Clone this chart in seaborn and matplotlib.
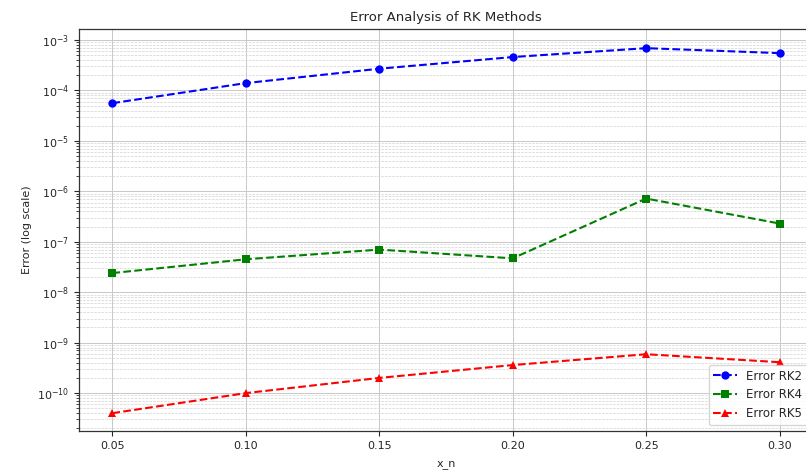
import matplotlib
matplotlib.use("Agg")
import matplotlib.pyplot as plt
import seaborn as sns
import numpy as np

x_n = [0.05, 0.10, 0.15, 0.20, 0.25, 0.30]
err_rk2 = [5.6e-5, 1.4e-4, 2.7e-4, 4.6e-4, 6.9e-4, 5.5e-4]
err_rk4 = [2.4e-8, 4.5e-8, 7.0e-8, 4.7e-8, 7.2e-7, 2.3e-7]
err_rk5 = [4.0e-11, 1.0e-10, 2.0e-10, 3.6e-10, 5.9e-10, 4.1e-10]
labels = ["Error RK2", "Error RK4", "Error RK5"]

sns.set_style("white")
plt.rcParams['font.family'] = ['DejaVu Sans']

fig = plt.figure(figsize=(8.06, 4.72), dpi=100)
ax = fig.add_axes([0.098, 0.087, 0.9107, 0.8517])

sns.lineplot(x=x_n, y=err_rk2, ax=ax, marker='o', linestyle='--', color='b',
             label=labels[0], markersize=6, markeredgewidth=0)
sns.lineplot(x=x_n, y=err_rk4, ax=ax, marker='s', linestyle='--', color='g',
             label=labels[1], markersize=6, markeredgewidth=0)
sns.lineplot(x=x_n, y=err_rk5, ax=ax, marker='^', linestyle='--', color='r',
             label=labels[2], markersize=6, markeredgewidth=0)

ax.set_yscale('log')
ax.set_ylim(10**-10.75, 10**-2.78)
ax.set_xticks(x_n)
ax.set_xticklabels([f"{v:.2f}" for v in x_n])
ax.grid(True, which='major', linestyle='-', linewidth=0.7, color='#c8c8c8')
ax.grid(True, which='minor', linestyle='--', linewidth=0.5, color='#d2d2d2')
ax.tick_params(axis='both', which='major', labelsize=8, length=3.5, direction='out', left=True, bottom=True)
ax.tick_params(axis='y', which='minor', length=2, left=True)
for s in ax.spines.values():
    s.set_color('#333333')
    s.set_linewidth(0.9)

ax.set_title("Error Analysis of RK Methods", fontsize=9.5)
ax.set_xlabel("x_n", fontsize=8, labelpad=6)
ax.set_ylabel("Error (log scale)", fontsize=8)
ax.legend(loc='lower right', fontsize=8.5, frameon=True)

fig.savefig("out.png", dpi=100)
